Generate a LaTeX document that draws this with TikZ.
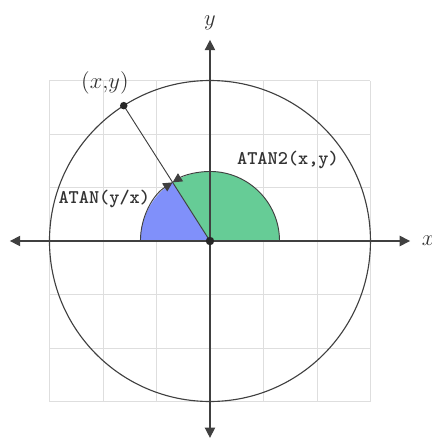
\documentclass[tikz,border=0pt]{standalone}
\usetikzlibrary{arrows.meta}
\begin{document}
\begin{tikzpicture}[x=1cm,y=1cm,
  gridline/.style={draw=black!13,line width=0.5pt},
  axisline/.style={draw=black!75,line width=0.75pt,-{Triangle[length=5.5pt,width=5.5pt]}},
  ringline/.style={draw=black!75,line width=0.6pt},
  wedgeline/.style={draw=black!75,line width=0.5pt},
  arctip/.style={draw=black!75,line width=0.5pt,-{Triangle[length=5pt,width=5pt]}},
  ttlabel/.style={text=black!80,font=\fontsize{10.3}{12}\ttfamily\bfseries,inner sep=0pt},
  mathlabel/.style={text=black!80,font=\fontsize{12}{14}\selectfont,inner sep=0pt},
  dotmark/.style={circle,fill=black!85,inner sep=0pt,minimum size=4.5pt}]
\useasboundingbox (-3.925,-3.701) rectangle (4.150,4.505);
\def\ang{122.5}
\def\rr{1.3}
% grid
\draw[gridline] (-3,-3) grid (3,3);
% origin and point
\coordinate (O) at (0,0);
\coordinate (P) at (\ang:3);
\coordinate (Q) at (\ang:\rr);
% wedges
\fill[fill={rgb,255:red,128;green,144;blue,250}] (O) -- (180:\rr) arc (180:\ang:\rr) -- cycle;
\fill[fill={rgb,255:red,102;green,204;blue,150}] (O) -- (0:\rr) arc (0:\ang:\rr) -- cycle;
\draw[arctip] (180:\rr) arc (180:\ang:\rr);
\draw[arctip] (0:\rr) arc (0:\ang:\rr);
% circle
\draw[ringline] (O) circle (3);
% axes
\coordinate (xl) at (-3.74,0);
\coordinate (xr) at (3.74,0);
\coordinate (yt) at (0,3.76);
\coordinate (yb) at (0,-3.68);
\draw[axisline] (O) -- (xr);
\draw[axisline] (O) -- (xl);
\draw[axisline] (O) -- (yt);
\draw[axisline] (O) -- (yb);
% radius line
\draw[wedgeline] (P) -- (O);
\node[dotmark] (o) at (O) {};
\node[dotmark,minimum size=4pt] (p) at (P) {};
% labels
\node[mathlabel] (lx) at (4.08,0) {$x$};
\node[mathlabel] (ly) at (0,4.08) {$y$};
\node[mathlabel] (lp) at (-1.963,2.963) {$(x{,}y)$};
\node[ttlabel] (l2) at (1.458,1.514) {ATAN2(x,y)};
\node[ttlabel] (l1) at (-1.976,0.785) {ATAN(y/x)};
\end{tikzpicture}
\end{document}
